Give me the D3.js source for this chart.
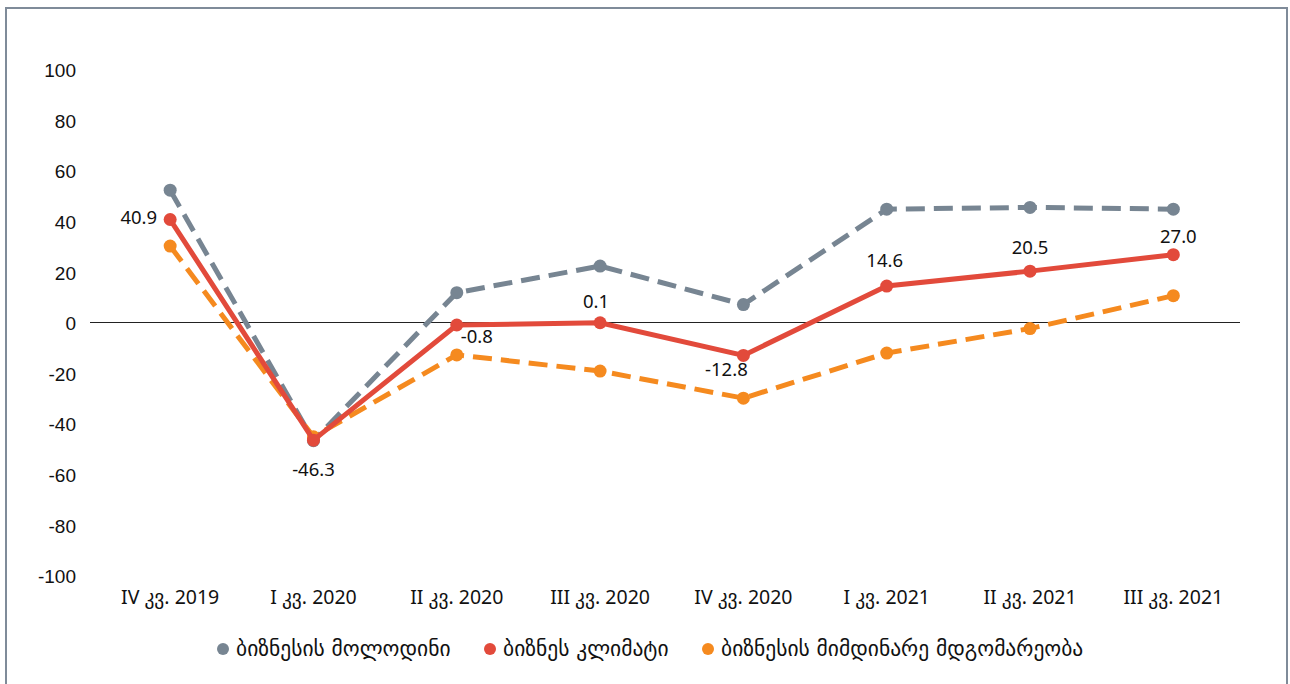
<!DOCTYPE html>
<html>
<head>
<meta charset="utf-8">
<script src="https://cdn.jsdelivr.net/npm/d3@7"></script>
<style>
  body { margin: 0; background: #fff; }
  svg { display: block; font-family: "Noto Sans", "DejaVu Sans", sans-serif; }
</style>
</head>
<body>
<div id="chart"></div>
<script>
// quarters
var quarters = ["IV კვ. 2019", "I კვ. 2020", "II კვ. 2020", "III კვ. 2020",
                "IV კვ. 2020", "I კვ. 2021", "II კვ. 2021", "III კვ. 2021"];

var expectations = [52.5, -46.5, 12.0, 22.5, 7.3, 45.0, 45.7, 45.0];
var climate      = [40.9, -46.3, -0.8, 0.1, -12.8, 14.6, 20.5, 27.0];
var current      = [30.4, -45.0, -12.6, -19.0, -29.7, -11.9, -2.2, 10.8];

var yTicks = [100, 80, 60, 40, 20, 0, -20, -40, -60, -80, -100];

var seriesNames = ["ბიზნესის მოლოდინი", "ბიზნეს კლიმატი", "ბიზნესის მიმდინარე მდგომარეობა"];
var colors = ["#778592", "#e24a3b", "#f58a1f"];

var width = 1290, height = 684;

var svg = d3.select("#chart").append("svg")
  .attr("width", width)
  .attr("height", height);

// frame
svg.append("rect")
  .attr("x", 6).attr("y", 8)
  .attr("width", 1281).attr("height", 700)
  .attr("fill", "none")
  .attr("stroke", "#7f8b99")
  .attr("stroke-width", 2);

var x = d3.scaleBand().domain(quarters).range([98.5, 1245]);
var y = d3.scaleLinear().domain([-100, 100]).range([576, 70]);

function cx(i) { return x(quarters[i]) + x.bandwidth() / 2; }

// y tick labels (plain hyphen, not the unicode minus)
var yAxis = d3.axisLeft(y).tickValues(yTicks).tickSize(0).tickPadding(0)
  .tickFormat(function(d) { return String(d); });
svg.append("g")
  .attr("transform", "translate(76,0)")
  .call(yAxis)
  .call(function(g) {
    g.select(".domain").remove();
    g.selectAll("text")
      .attr("font-size", 19)
      .attr("fill", "#111")
      .attr("font-family", "'Liberation Sans Narrow', 'Liberation Sans', sans-serif")
      .attr("dy", "0.35em");
  });

// zero line
svg.append("line")
  .attr("x1", 90).attr("x2", 1240)
  .attr("y1", y(0) - 0.5).attr("y2", y(0) - 0.5)
  .attr("stroke", "#222").attr("stroke-width", 1)
  .attr("shape-rendering", "crispEdges");

// x labels
var xAxis = d3.axisBottom(x).tickSize(0).tickPadding(0);
svg.append("g")
  .attr("transform", "translate(0,590)")
  .call(xAxis)
  .call(function(g) {
    g.select(".domain").remove();
    g.selectAll("text").attr("font-size", 19.5).attr("fill", "#111")
      .attr("font-family", "'Noto Sans', 'DejaVu Sans', sans-serif");
  });

var line = d3.line()
  .x(function(d, i) { return cx(i); })
  .y(function(d) { return y(d); });

var all = [expectations, climate, current];
var drawOrder = [0, 2, 1];

drawOrder.forEach(function(s) {
  var g = svg.append("g");
  g.append("path")
    .datum(all[s])
    .attr("d", line)
    .attr("fill", "none")
    .attr("stroke", colors[s])
    .attr("stroke-width", 5)
    .attr("stroke-dasharray", s === 1 ? null : "19,9");
  g.selectAll("circle")
    .data(all[s])
    .enter().append("circle")
    .attr("cx", function(d, i) { return cx(i); })
    .attr("cy", function(d) { return y(d); })
    .attr("r", 6.5)
    .attr("fill", colors[s]);
});

// data labels on climate line
var labelPos = [
  { dx: -13, dy: 4, anchor: "end" },
  { dx: 0, dy: 36, anchor: "middle" },
  { dx: 4, dy: 18, anchor: "start" },
  { dx: -4, dy: -15, anchor: "middle" },
  { dx: -17, dy: 21, anchor: "middle" },
  { dx: -2, dy: -19, anchor: "middle" },
  { dx: 0, dy: -17, anchor: "middle" },
  { dx: 5, dy: -12, anchor: "middle" }
];
svg.append("g").selectAll("text")
  .data(climate)
  .enter().append("text")
  .attr("x", function(d, i) { return cx(i) + labelPos[i].dx; })
  .attr("y", function(d, i) { return y(d) + labelPos[i].dy; })
  .attr("text-anchor", function(d, i) { return labelPos[i].anchor; })
  .attr("font-size", 18.5)
  .attr("fill", "#111")
  .text(function(d) { return d.toFixed(1); });

// legend
var legendX = [223, 490, 708];
var legend = svg.append("g");
seriesNames.forEach(function(name, i) {
  legend.append("circle")
    .attr("cx", legendX[i]).attr("cy", 649).attr("r", 6)
    .attr("fill", colors[i]);
  legend.append("text")
    .attr("x", legendX[i] + 13).attr("y", 656)
    .attr("font-size", 21.5).attr("fill", "#111")
    .attr("font-family", "'DejaVu Sans', sans-serif")
    .text(name);
});
</script>
</body>
</html>
